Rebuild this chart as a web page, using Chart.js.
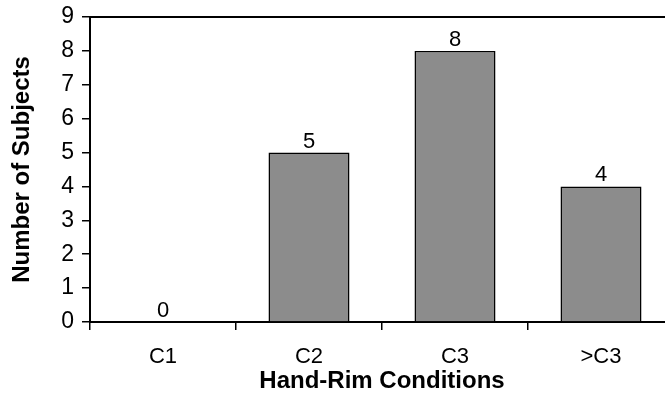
<!DOCTYPE html>
<html>
<head>
<meta charset="utf-8">
<script src="https://cdn.jsdelivr.net/npm/chart.js@4"></script>
<style>
html,body{margin:0;padding:0;background:#fff;overflow:hidden;}
#wrap{width:680px;height:407px;}
</style>
</head>
<body>
<div id="wrap"><canvas id="c" width="680" height="407"></canvas></div>
<script>
const categories = ["C1", "C2", "C3", ">C3"];
const subjects = [0, 5, 8, 4];
const yTicks = [0, 1, 2, 3, 4, 5, 6, 7, 8, 9];

const FONT = '"Liberation Sans", Arial, sans-serif';

const labelPlugin = {
  id: 'valueLabels',
  afterDatasetsDraw(chart) {
    const ctx = chart.ctx;
    const meta = chart.getDatasetMeta(0);
    ctx.save();
    ctx.font = '22px ' + FONT;
    ctx.fillStyle = '#000';
    ctx.textAlign = 'center';
    ctx.textBaseline = 'alphabetic';
    meta.data.forEach((bar, i) => {
      ctx.fillText(String(subjects[i]), bar.x, bar.y - 5);
    });
    ctx.restore();
  }
};

new Chart(document.getElementById('c'), {
  type: 'bar',
  data: {
    labels: categories,
    datasets: [{
      data: subjects,
      backgroundColor: '#8c8c8c',
      borderColor: '#000',
      borderWidth: 1.5,
      barPercentage: 0.555,
      categoryPercentage: 1
    }]
  },
  options: {
    responsive: false,
    animation: false,
    events: [],
    layout: { autoPadding: false, padding: { top: 17, right: 6, left: 0, bottom: 0 } },
    plugins: { legend: { display: false }, tooltip: { enabled: false } },
    scales: {
      x: {
        position: 'bottom',
        grid: { display: true, offset: true, drawOnChartArea: false, drawTicks: true, tickLength: 8, color: '#000', lineWidth: 1.5 },
        border: { display: true, color: '#000', width: 2 },
        ticks: { color: '#000', padding: 14, font: { family: FONT, size: 22 } },
        title: { display: true, text: 'Hand-Rim Conditions', color: '#000', padding: { top: 4, bottom: 11 }, font: { family: FONT, size: 24, weight: 'bold' } },
        afterFit(s) { s.height = 85; s.paddingLeft = 0; s.paddingRight = 0; }
      },
      xTop: {
        position: 'top',
        display: true,
        grid: { display: false },
        border: { display: true, color: '#000', width: 2 },
        ticks: { display: false },
        afterFit(s) { s.height = 0; s.paddingLeft = 0; s.paddingRight = 0; }
      },
      y: {
        min: 0, max: 9,
        afterBuildTicks(s) { s.ticks = yTicks.map(v => ({ value: v })); },
        grid: { display: true, drawOnChartArea: false, drawTicks: true, tickLength: 8, color: '#000', lineWidth: 1.5 },
        border: { display: true, color: '#000', width: 2 },
        ticks: { color: '#000', padding: 8, font: { family: FONT, size: 23 } },
        title: { display: true, text: 'Number of Subjects', color: '#000', padding: { top: 8, bottom: 4 }, font: { family: FONT, size: 24, weight: 'bold' } },
        afterFit(s) { s.width = 90; s.paddingTop = 0; s.paddingBottom = 0; }
      }
    }
  },
  plugins: [labelPlugin]
});
</script>
</body>
</html>
